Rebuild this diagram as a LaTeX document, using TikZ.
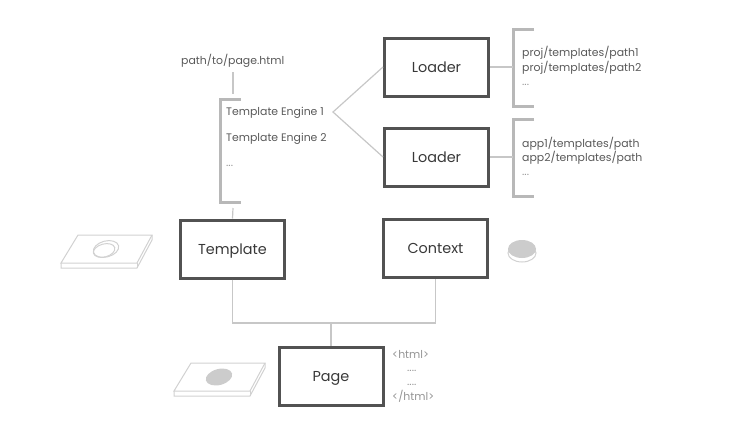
\documentclass[tikz,border=0pt]{standalone}
\usepackage{fontspec}
\setmainfont{Poppins}
\usetikzlibrary{positioning}
\newcommand{\bw}{104pt}
\newcommand{\bh}{58pt}
\newcommand{\plate}[1]{%
    \draw[plateline,shift={#1}] (17,0) -- (91,0) -- (76,28) -- (0,28) -- cycle;
    \draw[plateline,shift={#1}] (0,28) -- (0,33) -- (76,33) -- (91,5) -- (91,0);
    \draw[plateline,shift={#1}] (76,28) -- (76,33);
}
\begin{document}
\begin{tikzpicture}[x=1pt,y=-1pt,
    box/.style={draw=black!68, line width=3pt, rectangle, minimum width=\bw, minimum height=\bh, inner sep=0pt, text=black!78, text height=10pt, text depth=0pt, font=\fontsize{14.4}{16}\selectfont},
    label/.style={anchor=west, inner sep=0pt, text=black!65, text height=7.5pt, text depth=0pt, font=\fontsize{10.9}{12}\selectfont},
    faint/.style={label, text=black!42},
    link/.style={draw=black!22, line width=1.2pt},
    bracket/.style={draw=black!28, line width=3pt},
    plateline/.style={draw=black!18, line width=1pt}]
    \useasboundingbox (0,0) rectangle (741,421);

    % Boxes
    \node[box] (loader-1) at (436.5,67) {Loader};
    \node[box] (loader-2) at (436.5,157) {Loader};
    \node[box] (template) at (232.5,249) {Template};
    \node[box] (context) at (435.5,248.5) {Context};
    \node[box] (page) at (331,376.5) {Page};

    % Free ends
    \coordinate (fork) at (333,112);
    \coordinate (bus) at (331,323);
    \coordinate (path-end) at (233,72);
    \coordinate (engines-top) at (233,94);
    \coordinate (engines-bottom) at (233,208);
    \coordinate (paths-1) at (513,67);
    \coordinate (paths-2) at (513,157);

    % Brackets
    \draw[bracket] (241,99) -- (220,99) -- (220,202) -- (241,202);
    \draw[bracket] (534,29) -- (513,29) -- (513,106) -- (534,106);
    \draw[bracket] (534,119) -- (513,119) -- (513,196) -- (534,196);

    % Connectors
    \draw[link] (path-end) -- (engines-top);
    \draw[link] (engines-bottom) -- (template.north);
    \draw[link] (loader-1.west) -- (fork) -- (loader-2.west);
    \draw[link] (loader-1.east) -- (paths-1);
    \draw[link] (loader-2.east) -- (paths-2);
    \draw[link] (template.south) |- (bus) -| (context.south);
    \draw[link] (bus) -- (page.north);

    % Texts
    \node[label] (path) at (181,61) {path/to/page.html};
    \node[label] (engine-1) at (226,112) {Template Engine 1};
    \node[label] (engine-2) at (226,138) {Template Engine 2};
    \node[faint] (engine-3) at (226,163) {...};
    \node[label] (path-1-1) at (522,53) {proj/templates/path1};
    \node[label] (path-1-2) at (522,68) {proj/templates/path2};
    \node[faint] (path-1-3) at (522,81.5) {...};
    \node[label] (path-2-1) at (522,144) {app1/templates/path};
    \node[label] (path-2-2) at (522,158) {app2/templates/path};
    \node[faint] (path-2-3) at (522,171.5) {...};
    \node[faint] (html-1) at (392,355) {<html>};
    \node[faint] (html-2) at (407,368) {....};
    \node[faint] (html-3) at (407,382) {....};
    \node[faint] (html-4) at (392,397) {</html>};

    % Plates
    \plate{(61,235)}
    \draw[plateline, rotate around={15:(106,249)}] (106,249) ellipse (13 and 8);
    \draw[plateline, rotate around={15:(104,250)}] (104,250.5) ellipse (11 and 6.5);
    \plate{(174,363)}
    \fill[black!20, rotate around={15:(219,377)}] (219,377) ellipse (13.5 and 8);

    % Disk
    \draw[plateline, fill=white] (522,253) ellipse (14 and 9);
    \fill[black!20] (522,249) ellipse (14 and 9);
\end{tikzpicture}
\end{document}
